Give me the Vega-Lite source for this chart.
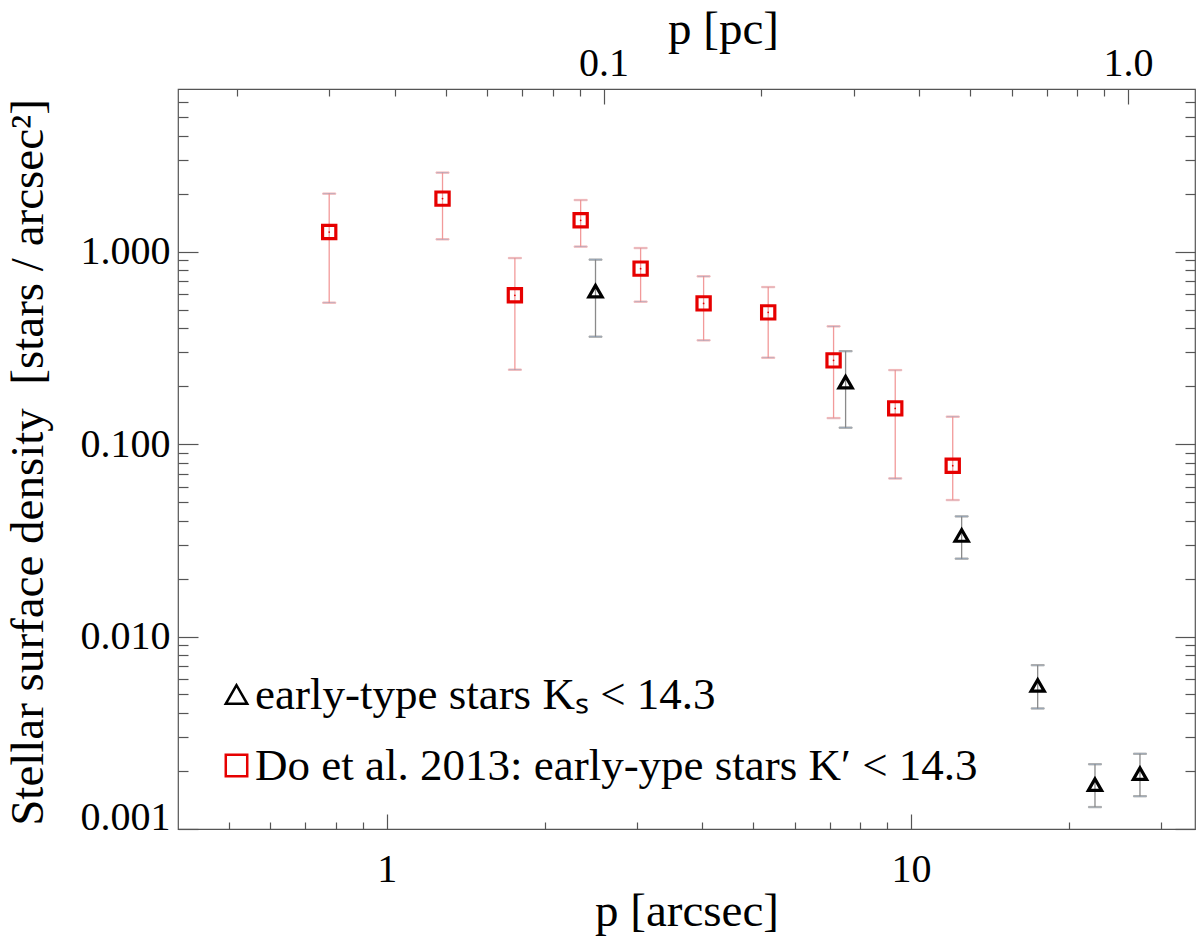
{
  "$schema": "https://vega.github.io/schema/vega-lite/v6.json",
  "width": 1017,
  "height": 740,
  "autosize": {"type": "none"},
  "padding": {"left": 178, "top": 89, "right": 5, "bottom": 118},
  "background": "white",
  "config": {
    "view": {"stroke": "#555", "strokeWidth": 1.2},
    "font": "Liberation Serif",
    "axis": {
      "domain": false, "grid": false,
      "labelFont": "Liberation Serif", "titleFont": "Liberation Serif",
      "labelFontSize": 40, "titleFontSize": 47, "titleFontWeight": "normal",
      "labelColor": "#000", "titleColor": "#000",
      "tickColor": "#555", "tickWidth": 1.2
    },
    "legend": {
      "labelFont": "Liberation Serif", "labelFontSize": 45, "labelColor": "#000", "labelLimit": 900
    }
  },
  "datasets": {
    "pts": [
      {"series": "Do et al. 2013: early-ype stars K′ < 14.3", "x": 0.777, "y": 1.264, "lo": 0.543, "hi": 2.002},
      {"series": "Do et al. 2013: early-ype stars K′ < 14.3", "x": 1.278, "y": 1.886, "lo": 1.159, "hi": 2.574},
      {"series": "Do et al. 2013: early-ype stars K′ < 14.3", "x": 1.756, "y": 0.593, "lo": 0.2436, "hi": 0.926},
      {"series": "Do et al. 2013: early-ype stars K′ < 14.3", "x": 2.344, "y": 1.455, "lo": 1.062, "hi": 1.854},
      {"series": "Do et al. 2013: early-ype stars K′ < 14.3", "x": 3.05, "y": 0.816, "lo": 0.5496, "hi": 1.044},
      {"series": "Do et al. 2013: early-ype stars K′ < 14.3", "x": 4.022, "y": 0.5385, "lo": 0.346, "hi": 0.744},
      {"series": "Do et al. 2013: early-ype stars K′ < 14.3", "x": 5.341, "y": 0.4836, "lo": 0.2812, "hi": 0.6546},
      {"series": "Do et al. 2013: early-ype stars K′ < 14.3", "x": 7.117, "y": 0.2723, "lo": 0.1365, "hi": 0.409},
      {"series": "Do et al. 2013: early-ype stars K′ < 14.3", "x": 9.33, "y": 0.1533, "lo": 0.0663, "hi": 0.2424},
      {"series": "Do et al. 2013: early-ype stars K′ < 14.3", "x": 12.01, "y": 0.0772, "lo": 0.0512, "hi": 0.1388},
      {"series": "early-type stars Kₛ < 14.3", "x": 2.502, "y": 0.624, "lo": 0.3615, "hi": 0.909},
      {"series": "early-type stars Kₛ < 14.3", "x": 7.503, "y": 0.21, "lo": 0.1217, "hi": 0.304},
      {"series": "early-type stars Kₛ < 14.3", "x": 12.49, "y": 0.0335, "lo": 0.0254, "hi": 0.0421},
      {"series": "early-type stars Kₛ < 14.3", "x": 17.44, "y": 0.00557, "lo": 0.00423, "hi": 0.0071},
      {"series": "early-type stars Kₛ < 14.3", "x": 22.43, "y": 0.0017, "lo": 0.0013, "hi": 0.00217},
      {"series": "early-type stars Kₛ < 14.3", "x": 27.33, "y": 0.00194, "lo": 0.00148, "hi": 0.00246}
    ],
    "pc": [{"pc": 0.1}, {"pc": 1.0}]
  },
  "resolve": {"scale": {"x": "independent"}, "axis": {"x": "independent", "y": "independent"}},
  "layer": [
    {
      "data": {"name": "pts"},
      "mark": {"type": "rule", "strokeWidth": 1.3},
      "encoding": {
        "x": {"field": "x", "type": "quantitative",
          "scale": {"type": "log", "domain": [0.4, 34.8]},
          "axis": {"orient": "bottom", "values": [1, 10], "format": "~g", "ticks": false,
            "labelPadding": 52, "labelBaseline": "alphabetic",
            "title": "p [arcsec]", "titleBaseline": "alphabetic", "titleY": 96}},
        "y": {"field": "lo", "type": "quantitative",
          "scale": {"type": "log", "domain": [0.001, 7.0]},
          "axis": {"orient": "left", "values": [0.001, 0.01, 0.1, 1], "format": ".3f", "ticks": false,
            "labelPadding": 8,
            "labelBaseline": {"condition": {"test": "datum.value <= 0.0011", "value": "alphabetic"}, "value": "middle"},
            "title": "Stellar surface density\u00a0 [stars / arcsec²]", "titleAngle": 270, "titleFontSize": 47,
            "titleBaseline": "alphabetic", "titleX": -136, "titleY": 373}},
        "y2": {"field": "hi"},
        "stroke": {"field": "series", "type": "nominal",
          "scale": {"domain": ["Do et al. 2013: early-ype stars K′ < 14.3", "early-type stars Kₛ < 14.3"], "range": ["#f29a9a", "#8a8a8a"]},
          "legend": null}
      }
    },
    {
      "data": {"name": "pts"},
      "mark": {"type": "tick", "orient": "horizontal", "size": 13, "thickness": 1.3},
      "encoding": {
        "x": {"field": "x", "type": "quantitative",
          "scale": {"type": "log", "domain": [0.4, 34.8]},
          "axis": {"orient": "bottom", "values": [1, 10], "labels": false, "tickSize": -15, "title": null}},
        "y": {"field": "lo", "type": "quantitative",
          "scale": {"type": "log", "domain": [0.001, 7.0]},
          "axis": {"orient": "left", "values": [0.001, 0.01, 0.1, 1], "labels": false, "tickSize": -20, "title": null}},
        "stroke": {"field": "series", "type": "nominal", "legend": null}
      }
    },
    {
      "data": {"name": "pts"},
      "mark": {"type": "tick", "orient": "horizontal", "size": 13, "thickness": 1.3},
      "encoding": {
        "x": {"field": "x", "type": "quantitative",
          "scale": {"type": "log", "domain": [0.4, 34.8]},
          "axis": {"orient": "bottom", "values": [0.5, 0.6, 0.7, 0.8, 0.9, 2, 3, 4, 5, 6, 7, 8, 9, 20, 30], "labels": false, "tickSize": -7, "title": null}},
        "y": {"field": "hi", "type": "quantitative",
          "scale": {"type": "log", "domain": [0.001, 7.0]},
          "axis": {"orient": "left", "values": [0.002, 0.003, 0.004, 0.005, 0.006, 0.007, 0.008, 0.009, 0.02, 0.03, 0.04, 0.05, 0.06, 0.07, 0.08, 0.09, 0.2, 0.3, 0.4, 0.5, 0.6, 0.7, 0.8, 0.9, 2, 3, 4, 5, 6], "labels": false, "tickSize": -10, "title": null}},
        "stroke": {"field": "series", "type": "nominal", "legend": null}
      }
    },
    {
      "data": {"name": "pts"},
      "mark": {"type": "point", "filled": false, "strokeWidth": 3.2, "opacity": 1},
      "encoding": {
        "x": {"field": "x", "type": "quantitative",
          "scale": {"type": "log", "domain": [0.4, 34.8]}, "axis": null},
        "y": {"field": "y", "type": "quantitative",
          "scale": {"type": "log", "domain": [0.001, 7.0]},
          "axis": {"orient": "right", "values": [0.001, 0.01, 0.1, 1], "labels": false, "tickSize": -20, "title": null}},
        "shape": {"field": "series", "type": "nominal",
          "scale": {"domain": ["early-type stars Kₛ < 14.3", "Do et al. 2013: early-ype stars K′ < 14.3"], "range": ["triangle-up", "square"]},
          "legend": {"title": null, "orient": "none", "legendX": 36, "legendY": 583, "padding": 0, "symbolSize": 460, "symbolStrokeWidth": 2.5, "rowPadding": 25, "labelOffset": -4}},
        "color": {"field": "series", "type": "nominal",
          "scale": {"domain": ["early-type stars Kₛ < 14.3", "Do et al. 2013: early-ype stars K′ < 14.3"], "range": ["#000000", "#e60000"]},
          "legend": {"title": null, "orient": "none", "legendX": 36, "legendY": 583, "padding": 0, "symbolSize": 460, "symbolStrokeWidth": 2.5, "rowPadding": 25, "labelOffset": -4}},
        "size": {"value": 175}
      }
    },
    {
      "data": {"name": "pts"},
      "transform": [{"filter": "indexof(datum.series, 'Do') == 0"}],
      "mark": {"type": "point", "filled": true, "size": 3, "color": "#e60000", "opacity": 1},
      "encoding": {
        "x": {"field": "x", "type": "quantitative",
          "scale": {"type": "log", "domain": [0.4, 34.8]}, "axis": null},
        "y": {"field": "y", "type": "quantitative",
          "scale": {"type": "log", "domain": [0.001, 7.0]},
          "axis": {"orient": "right", "values": [0.002, 0.003, 0.004, 0.005, 0.006, 0.007, 0.008, 0.009, 0.02, 0.03, 0.04, 0.05, 0.06, 0.07, 0.08, 0.09, 0.2, 0.3, 0.4, 0.5, 0.6, 0.7, 0.8, 0.9, 2, 3, 4, 5, 6], "labels": false, "tickSize": -10, "title": null}}
      }
    },
    {
      "data": {"name": "pc"},
      "mark": {"type": "point", "opacity": 0},
      "encoding": {
        "x": {"field": "pc", "type": "quantitative",
          "scale": {"type": "log", "domain": [0.01543, 1.3426]},
          "axis": {"orient": "top", "values": [0.1, 1], "format": ".1f", "ticks": false,
            "labelPadding": 14, "labelBaseline": "alphabetic",
            "title": "p [pc]", "titleBaseline": "alphabetic", "titleX": 545, "titleY": -46}}
      }
    },
    {
      "data": {"name": "pc"},
      "mark": {"type": "point", "opacity": 0},
      "encoding": {
        "x": {"field": "pc", "type": "quantitative",
          "scale": {"type": "log", "domain": [0.01543, 1.3426]},
          "axis": {"orient": "top", "values": [0.1, 1], "labels": false, "tickSize": -15, "title": null}}
      }
    },
    {
      "data": {"name": "pc"},
      "mark": {"type": "point", "opacity": 0},
      "encoding": {
        "x": {"field": "pc", "type": "quantitative",
          "scale": {"type": "log", "domain": [0.01543, 1.3426]},
          "axis": {"orient": "top", "values": [0.02, 0.03, 0.04, 0.05, 0.06, 0.07, 0.08, 0.09, 0.2, 0.3, 0.4, 0.5, 0.6, 0.7, 0.8, 0.9], "labels": false, "tickSize": -7, "title": null}}
      }
    }
  ]
}
